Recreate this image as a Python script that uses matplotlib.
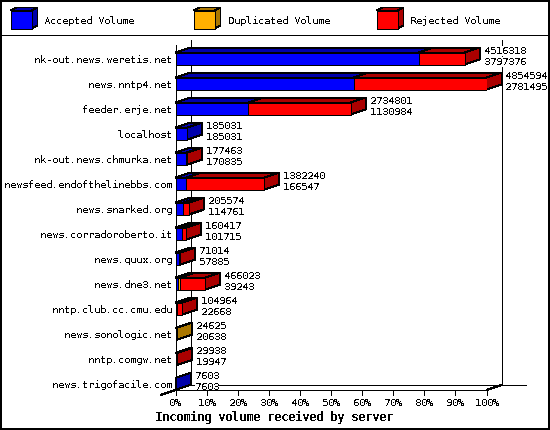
import matplotlib
matplotlib.use("Agg")
import matplotlib.pyplot as plt
from matplotlib.patches import Polygon, Rectangle

plt.rcParams['text.antialiased'] = False
plt.rcParams['text.hinting'] = 'native'
plt.rcParams['text.hinting_factor'] = 1
plt.rcParams['font.family'] = 'DejaVu Sans Mono'

servers = ["nk-out.news.weretis.net", "news.nntp4.net", "feeder.erje.net", "localhost",
           "nk-out.news.chmurka.net", "newsfeed.endofthelinebbs.com", "news.snarked.org",
           "news.corradoroberto.it", "news.quux.org", "news.dne3.net", "nntp.club.cc.cmu.edu",
           "news.sonologic.net", "nntp.comgw.net", "news.trigofacile.com"]
total = [4516318, 4854594, 2734801, 185031, 177463, 1382240, 205574, 160417, 71014, 466023,
         104964, 24625, 29938, 7603]
accepted = [3797376, 2781495, 1130984, 185031, 170835, 166547, 114761, 101715, 57885, 39243,
            22668, 20638, 19947, 7603]
duplicated = [0, 0, 0, 0, 0, 0, 0, 0, 0, 30000, 0, 3987, 0, 0]
legend_labels = ["Accepted Volume", "Duplicated Volume", "Rejected Volume"]
x_ticks = [0, 10, 20, 30, 40, 50, 60, 70, 80, 90, 100]
xlabel = "Incoming volume received by server"

FRONT = ["#0000ff", "#ffb000", "#ff0000"]
DARK = ["#0000aa", "#aa7700", "#aa0000"]
W, H = 550, 430
DX, DY = 15, 5  # depth in px
LW = 0.72

fig = plt.figure(figsize=(W/100, H/100), dpi=100)

# pixel-space overlay for frame and legend
bg = fig.add_axes([0, 0, 1, 1])
bg.set_xlim(0, W); bg.set_ylim(H, 0); bg.axis('off')
def pline(a, xs, ys, z=2):
    a.plot(xs, ys, color='k', lw=LW, antialiased=False, zorder=z, clip_on=False, solid_capstyle='butt')

bg.add_patch(Rectangle((0.5, 0.5), W-1.5, H-1.5, fill=False, ec='k', lw=1.44, antialiased=False))
pline(bg, [0, W], [35, 35])
for lab, sx, tx, f, d in zip(legend_labels, [10.5, 193.5, 376.5], [44.5, 227.5, 410.5], FRONT, DARK):
    w, h, dx, dy = 21, 18, 6, 3
    bg.add_patch(Polygon([(sx, 10.5), (sx+dx, 10.5-dy), (sx+w+dx, 10.5-dy), (sx+w, 10.5)], fc=d, ec='k', lw=LW, antialiased=False))
    bg.add_patch(Polygon([(sx+w, 10.5), (sx+w+dx, 10.5-dy), (sx+w+dx, 10.5+h-dy), (sx+w, 10.5+h)], fc=d, ec='k', lw=LW, antialiased=False))
    bg.add_patch(Rectangle((sx, 10.5), w, h, fc=f, ec='k', lw=LW, antialiased=False))
    bg.text(tx, 21, lab, fontsize=7.2, va='center', ha='left')

# chart axes: x in percent, y in rows. row 0 centre=59, pitch 25
n = len(servers)
L, R = 175.5, 486.5
T, B = 46.0, 390.0   # rows -0.5 .. n-0.5 (front)
ax = fig.add_axes([L/W, 1-B/H, (R-L)/W, (B-T)/H])
ax.set_xlim(0, 100)
ax.set_ylim(n-1+0.25, -0.5)
ax.axis('off')
ax.patch.set_alpha(0)
px_x = 100/(R-L)
px_y = (n-1+0.25+0.5)/(B-T)
dxd, dyd = DX*px_x, DY*px_y
hh = 6*px_y

def line(xs, ys, z=1):
    ax.plot(xs, ys, color='k', lw=LW, antialiased=False, zorder=z, clip_on=False, solid_capstyle='butt')

ymin, ymax = ax.get_ylim()
top = ymax - 6*px_y   # y=40 px
# back wall and floor
line([dxd, dxd], [ymin-dyd, top])
line([100+dxd, 100+dxd], [ymin-dyd, top])
line([dxd, 100+dxd+24*px_x], [ymin-dyd, ymin-dyd])
# front axes
line([0, 0], [ymin, ymax - 0.5*px_y], z=6)
line([0, 100], [ymin, ymin], z=6)
line([-dxd, 0], [ymin+dyd, ymin], z=6)
line([100, 100+dxd], [ymin, ymin-dyd], z=6)
for t in x_ticks:
    line([t, t], [ymin, ymin+dyd], z=6)
    ax.text(t, ymin+13.5*px_y, f"{t}%", fontsize=6.9, ha='center', va='center', clip_on=False)
ax.text((274-L)*px_x, ymin+28*px_y, xlabel, fontsize=8.4, fontweight='bold', ha='center', va='center', clip_on=False)

vmax = max(total)
for i in range(n):
    rej = total[i] - accepted[i] - duplicated[i]
    segs = [accepted[i], duplicated[i], rej]
    left = 0.0
    z = 3 + i*0.01
    last = max(j for j, s in enumerate(segs) if s > 0)
    for j, s in enumerate(segs):
        if s <= 0:
            continue
        wd = 100*s/vmax
        yt, yb = i-hh, i+hh
        ax.add_patch(Polygon([(left, yt), (left+dxd, yt-dyd), (left+wd+dxd, yt-dyd), (left+wd, yt)],
                             fc=DARK[j], ec='k', lw=LW, antialiased=False, zorder=z, clip_on=False))
        if j == last:
            ax.add_patch(Polygon([(left+wd, yt), (left+wd+dxd, yt-dyd), (left+wd+dxd, yb-dyd), (left+wd, yb)],
                                 fc=DARK[j], ec='k', lw=LW, antialiased=False, zorder=z, clip_on=False))
        ax.barh(i, wd, height=2*hh, left=left, color=FRONT[j], edgecolor='k', lw=LW, antialiased=False, zorder=z+0.001)
        left += wd
    xe = left + dxd + 4*px_x
    ax.text(xe, i-8*px_y, str(total[i]), fontsize=7.2, ha='left', va='center', zorder=5, clip_on=False,
            bbox=dict(fc='white', ec='none', pad=0))
    ax.text(xe, i+3*px_y, str(accepted[i]), fontsize=7.2, ha='left', va='center', zorder=5, clip_on=False,
            bbox=dict(fc='white', ec='none', pad=0))
    ax.text(-3.5*px_x, i+1*px_y, servers[i], fontsize=7.2, ha='right', va='center', clip_on=False)

fig.savefig("out.png", dpi=100)
